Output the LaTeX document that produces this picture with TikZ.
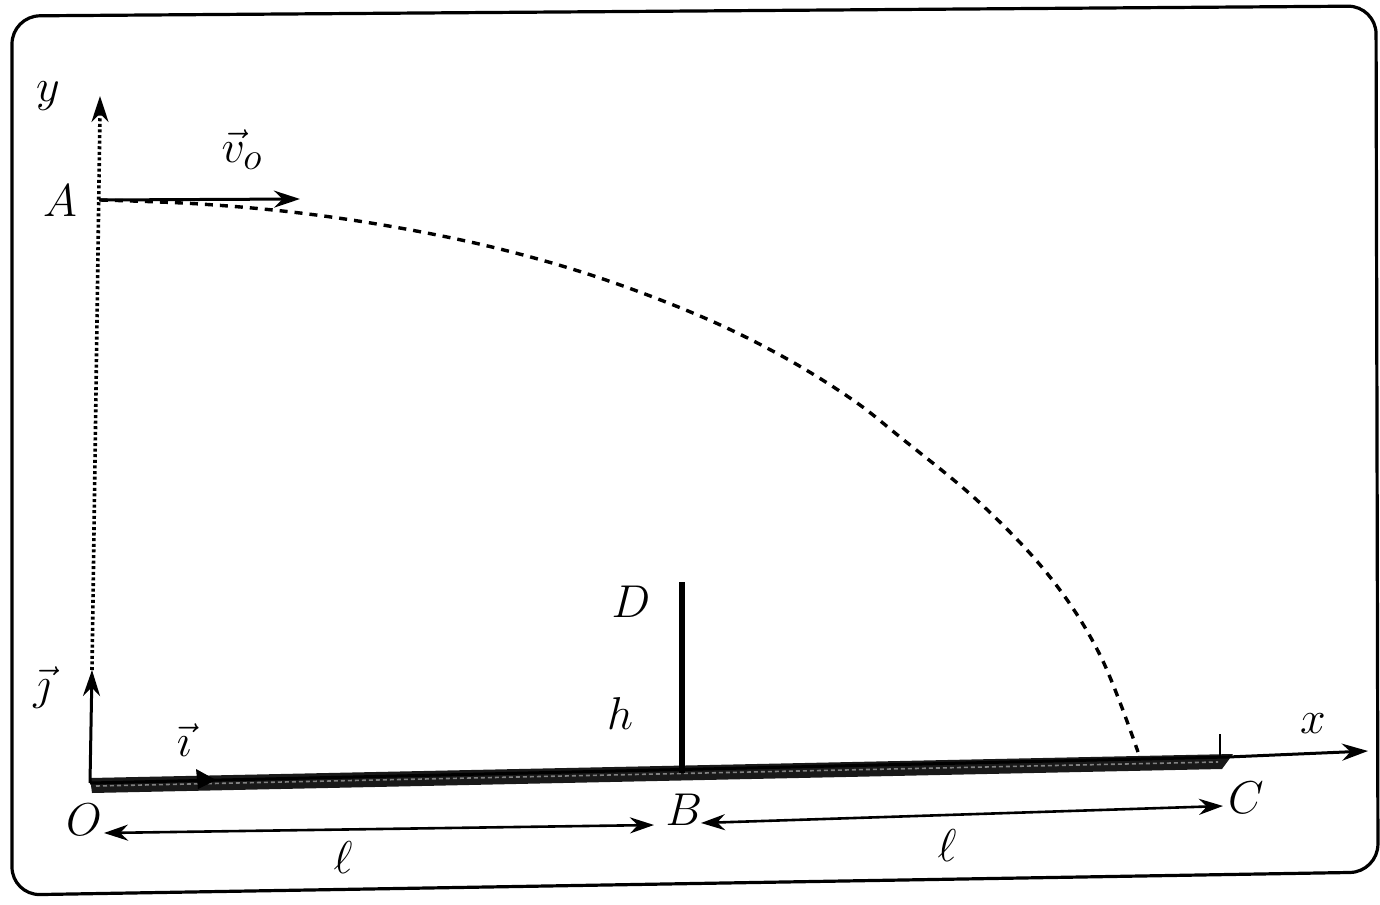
\documentclass[tikz,border=0pt]{standalone}
\usetikzlibrary{arrows.meta,calc}
\begin{document}
\begin{tikzpicture}[x=1pt,y=-1pt,
  lbl/.style={inner sep=0pt,font=\fontsize{24.88}{30}\selectfont,scale=1.85},
  axis/.style={line width=3pt,-{Stealth[length=26pt,width=17pt]}},
  dim/.style={line width=2.6pt,{Stealth[length=24pt,width=16pt]}-{Stealth[length=24pt,width=16pt]}},
  traj/.style={line width=3.4pt,dash pattern=on 8pt off 7pt},
  dots/.style={line width=3.6pt,dash pattern=on 3pt off 2.6pt}]
\useasboundingbox (0,0) rectangle (1380,904);
% frame
\draw[line width=3.2pt,rounded corners=28pt] (12,16) -- (1376,6) -- (1378,872) -- (12,895) -- cycle;
% coordinates
\coordinate (O) at (90,783);
\coordinate (Jtip) at (92,670);
\coordinate (Ytip) at (100,96);
\coordinate (Ydot) at (100,112);
\coordinate (Apt) at (99,200);
\coordinate (V0tip) at (300,199);
\coordinate (Itip) at (216,780);
\coordinate (Gend) at (1228,757);
\coordinate (Xtip) at (1368,751);
\coordinate (Bpt) at (682,773);
\coordinate (Dtop) at (682,582);
\coordinate (Ctick) at (1220,734);
\coordinate (Cbase) at (1220,758);
\coordinate (d1a) at (104,833);
\coordinate (d1b) at (654,825);
\coordinate (d2a) at (701,823);
\coordinate (d2b) at (1223,806);
% ground
\fill[black!90] (90,778) -- (1233,754) -- (1222,769) -- (92,793) -- cycle;
\draw[white!50!black,line width=1.6pt,dash pattern=on 4pt off 3pt] (96,786) -- (1218,762);
% x axis
\draw[axis] (O) -- (Gend) -- (Xtip);
\draw[line width=2.4pt] (Ctick) -- (Cbase);
% y axis
\draw[axis] (O) -- (Jtip);
\draw[dots] (Jtip) -- (Ydot);
\draw[line width=3pt,-{Stealth[length=26pt,width=17pt]}] (Ydot) -- (Ytip);
% i vector
\fill[black] (Itip) -- (196,769) -- (198,789) -- cycle;
% wall BD
\draw[line width=5.5pt] (Bpt) -- (Dtop);
% v0
\draw[axis] (Apt) -- (V0tip);
% trajectory
\draw[traj] plot[smooth,tension=0.6] coordinates {(100,200) (200,204) (300,213) (400,228) (500,249) (600,278) (700,316) (780,355) (850,398) (900,437) (980,503) (1050,577) (1100,655) (1138,752)};
% dimensions
\draw[dim] (d1a) -- (d1b);
\draw[dim] (d2a) -- (d2b);
% labels
\node[lbl] (ly) at (48,96) {$y$};
\node[lbl] (lA) at (60,201) {$A$};
\node[lbl] (lv) at (242,150) {$\vec{v}_{o}$};
\node[lbl] (lj) at (42,688) {$\vec{\jmath}$};
\node[lbl] (li) at (184,740) {$\vec{\imath}$};
\node[lbl] (lO) at (84,820) {$O$};
\node[lbl] (lD) at (631,602) {$D$};
\node[lbl] (lh) at (620,714) {$h$};
\node[lbl] (lB) at (684,810) {$B$};
\node[lbl] (lC) at (1246,798) {$C$};
\node[lbl] (lx) at (1313,724) {$x$};
\node[lbl] (ll1) at (343,858) {$\ell$};
\node[lbl] (ll2) at (947,846) {$\ell$};
\end{tikzpicture}
\end{document}
